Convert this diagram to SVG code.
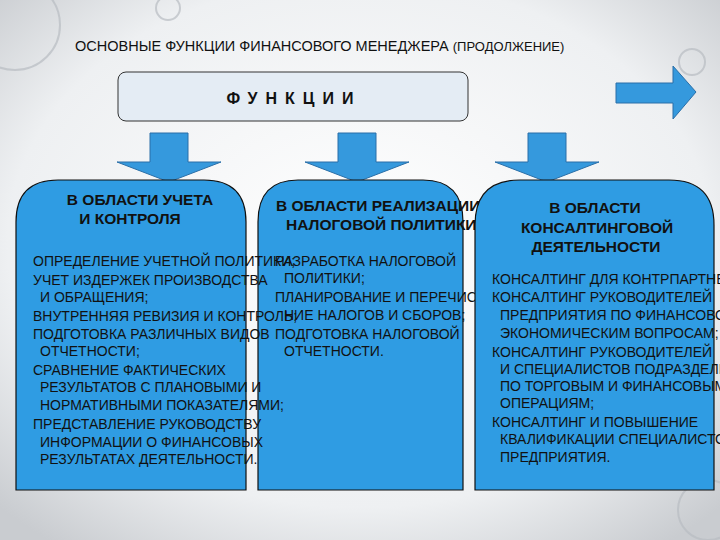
<svg xmlns="http://www.w3.org/2000/svg" width="720" height="540" viewBox="0 0 720 540">
<defs>
<radialGradient id="bg" cx="0.5" cy="0.45" r="0.7"><stop offset="0" stop-color="#ffffff"/><stop offset="0.7" stop-color="#eef0f2"/><stop offset="1" stop-color="#c9ccd0"/></radialGradient>
<style>
.t{font-family:"Liberation Sans",Arial,sans-serif;font-size:14px;fill:#111}
.h{font-family:"Liberation Sans",Arial,sans-serif;font-size:15.5px;font-weight:bold;fill:#111}
.box{fill:#2f9ce3;stroke:#111;stroke-width:1.2}
.arr{fill:#3599dd;stroke:#2a6fa8;stroke-width:1}
.bub{fill:none;stroke:#b8bcc2;stroke-width:2;opacity:0.7}
</style>
</defs>
<rect width="720" height="540" fill="url(#bg)"/>
<circle class="bub" cx="15" cy="25" r="45"/>
<circle class="bub" cx="692" cy="62" r="13"/>
<circle class="bub" cx="168" cy="8" r="12"/>
<circle class="bub" cx="708" cy="510" r="30"/>
<text class="t" x="75" y="51" style="font-size:14.5px">ОСНОВНЫЕ ФУНКЦИИ ФИНАНСОВОГО МЕНЕДЖЕРА  <tspan style="font-size:13px">(ПРОДОЛЖЕНИЕ)</tspan></text>
<g id="top">
<rect x="118" y="72" width="350" height="49" rx="8" fill="#e4ecf4" stroke="#333" stroke-width="1"/>
<text class="h" x="294" y="104" text-anchor="middle" style="letter-spacing:8px;font-size:16px">ФУНКЦИИ</text>
</g>
<g id="connectors">
<polygon class="arr" points="150,133 188,133 188,162 221,162 169,182 117,162 150,162"/>
<polygon class="arr" points="338,133 376,133 376,162 409,162 357,182 305,162 338,162"/>
<polygon class="arr" points="528,133 566,133 566,162 599,162 547,182 495,162 528,162"/>
<polygon class="arr" points="616,83 673,83 673,66 696,92 673,119 673,103 616,103"/>
</g>
<g id="box1">
<path class="box" d="M16,490 V222 Q16,180 58,180 H204 Q246,180 246,222 V490 Z"/>
<text class="h" x="140" y="205" text-anchor="middle">В ОБЛАСТИ УЧЕТА</text>
<text class="h" x="130" y="224" text-anchor="middle">И КОНТРОЛЯ</text>
</g>
<g id="box2">
<path class="box" d="M258,490 V222 Q258,180 298,180 H423 Q463,180 463,222 V490 Z"/>
</g>
<g id="box1-text">
<text class="t"><tspan x="33" y="266">ОПРЕДЕЛЕНИЕ УЧЕТНОЙ ПОЛИТИКИ;</tspan><tspan x="33" y="285">УЧЕТ ИЗДЕРЖЕК ПРОИЗВОДСТВА</tspan><tspan x="40" y="302">И ОБРАЩЕНИЯ;</tspan><tspan x="33" y="321">ВНУТРЕННЯЯ РЕВИЗИЯ И КОНТРОЛЬ;</tspan><tspan x="33" y="339">ПОДГОТОВКА РАЗЛИЧНЫХ ВИДОВ</tspan><tspan x="40" y="356">ОТЧЕТНОСТИ;</tspan><tspan x="33" y="375">СРАВНЕНИЕ ФАКТИЧЕСКИХ</tspan><tspan x="40" y="392">РЕЗУЛЬТАТОВ С ПЛАНОВЫМИ И</tspan><tspan x="40" y="410">НОРМАТИВНЫМИ ПОКАЗАТЕЛЯМИ;</tspan><tspan x="33" y="429">ПРЕДСТАВЛЕНИЕ РУКОВОДСТВУ</tspan><tspan x="40" y="447">ИНФОРМАЦИИ О ФИНАНСОВЫХ</tspan><tspan x="40" y="464">РЕЗУЛЬТАТАХ ДЕЯТЕЛЬНОСТИ.</tspan></text>
</g>
<g id="box2-text">
<text class="h"><tspan x="276" y="211">В ОБЛАСТИ РЕАЛИЗАЦИИ</tspan><tspan x="286" y="230">НАЛОГОВОЙ ПОЛИТИКИ</tspan></text>
<text class="t"><tspan x="275" y="266">РАЗРАБОТКА НАЛОГОВОЙ</tspan><tspan x="284" y="283">ПОЛИТИКИ;</tspan><tspan x="275" y="302">ПЛАНИРОВАНИЕ И ПЕРЕЧИСЛЕ-</tspan><tspan x="284" y="320">НИЕ НАЛОГОВ И СБОРОВ;</tspan><tspan x="275" y="339">ПОДГОТОВКА НАЛОГОВОЙ</tspan><tspan x="284" y="356">ОТЧЕТНОСТИ.</tspan></text>
</g>
<g id="box3">
<path class="box" d="M475,490 V225 Q475,180 520,180 H669 Q714,180 714,225 V490 Z"/>
<text class="h" text-anchor="middle"><tspan x="595" y="213">В ОБЛАСТИ</tspan><tspan x="597" y="233">КОНСАЛТИНГОВОЙ</tspan><tspan x="596" y="252">ДЕЯТЕЛЬНОСТИ</tspan></text>
<text class="t"><tspan x="492" y="284">КОНСАЛТИНГ ДЛЯ КОНТРПАРТНЕРОВ;</tspan><tspan x="492" y="302">КОНСАЛТИНГ РУКОВОДИТЕЛЕЙ</tspan><tspan x="500" y="320">ПРЕДПРИЯТИЯ ПО ФИНАНСОВО-</tspan><tspan x="500" y="338">ЭКОНОМИЧЕСКИМ ВОПРОСАМ;</tspan><tspan x="492" y="357">КОНСАЛТИНГ РУКОВОДИТЕЛЕЙ</tspan><tspan x="500" y="374">И СПЕЦИАЛИСТОВ ПОДРАЗДЕЛЕНИЙ</tspan><tspan x="500" y="391">ПО ТОРГОВЫМ И ФИНАНСОВЫМ</tspan><tspan x="500" y="408">ОПЕРАЦИЯМ;</tspan><tspan x="492" y="427">КОНСАЛТИНГ И ПОВЫШЕНИЕ</tspan><tspan x="500" y="444">КВАЛИФИКАЦИИ СПЕЦИАЛИСТОВ</tspan><tspan x="500" y="462">ПРЕДПРИЯТИЯ.</tspan></text>
</g>
</svg>
